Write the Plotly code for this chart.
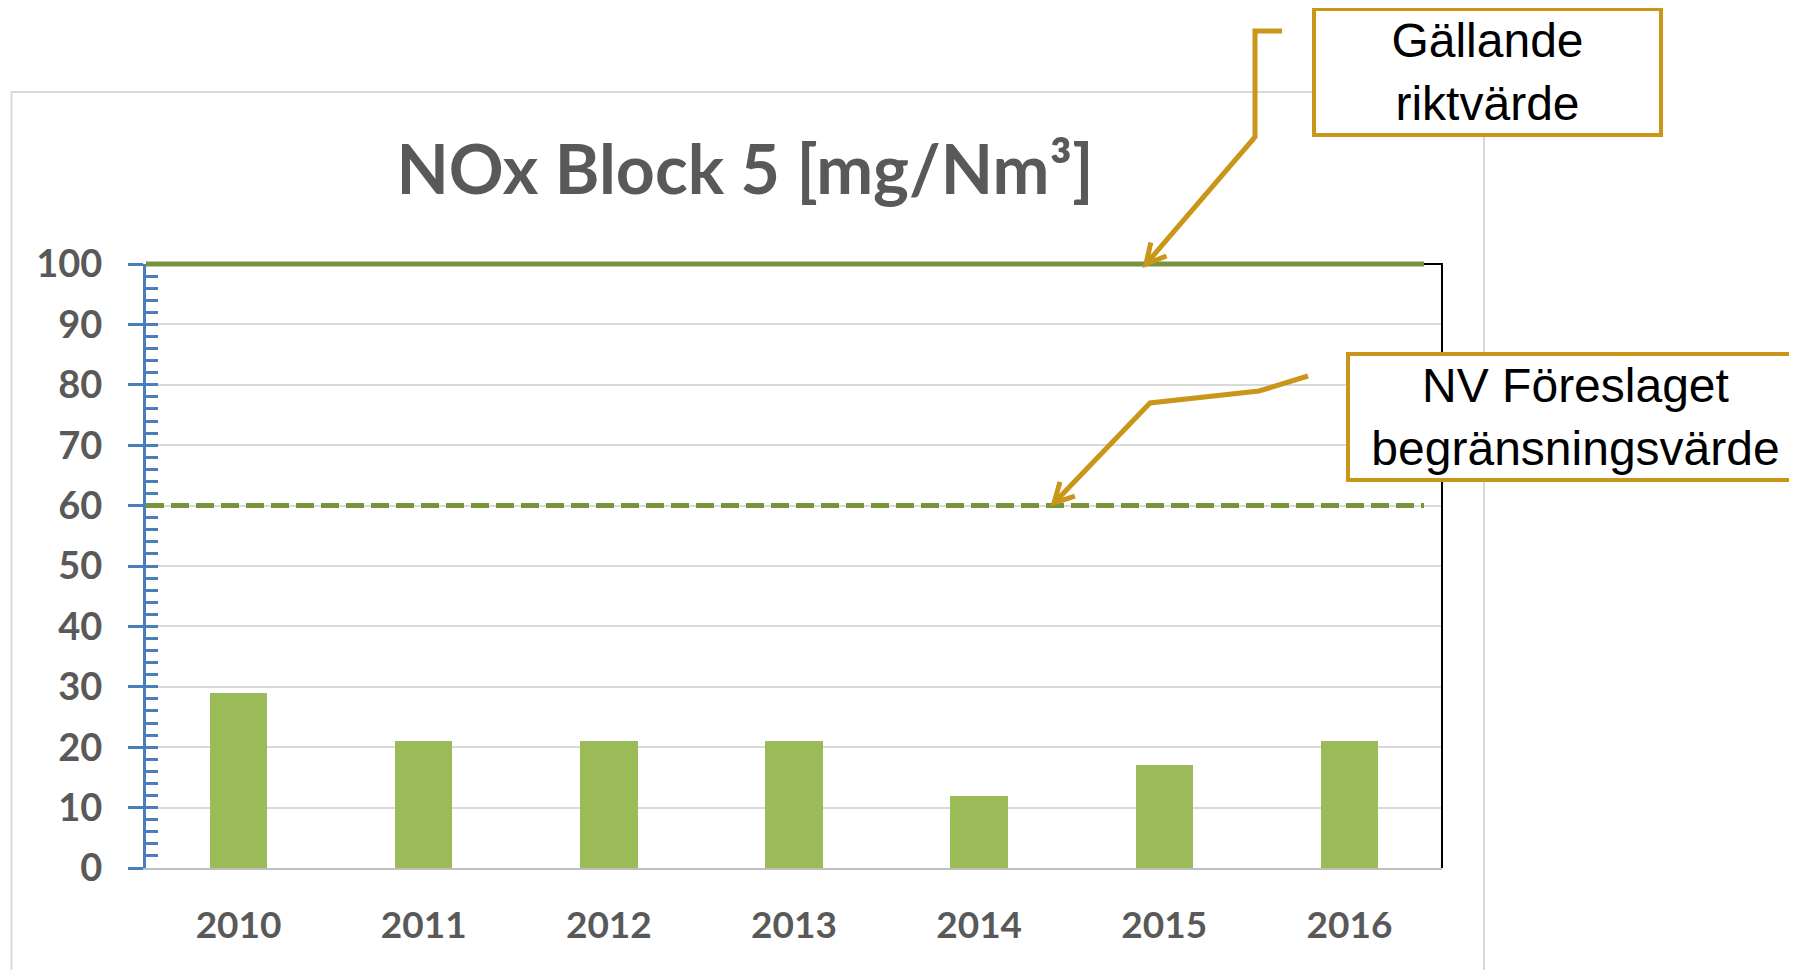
import math
import plotly.graph_objects as go

# ---- data ----
years = ["2010", "2011", "2012", "2013", "2014", "2015", "2016"]
nox_values = [29, 21, 21, 21, 12, 17, 21]
limit_names = ["Gällande riktvärde", "NV Föreslaget begränsningsvärde"]
limit_values = [100, 60]
y_range = [0, 100]
title_text = "NOx Block 5 [mg/Nm³]"

OFF = 8  # default page body margin
W, H = 1797 - OFF, 970 - OFF
L, R, T, B = 146 - OFF, 1442 - OFF, 264 - OFF, 868 - OFF  # plot area in figure px

def px(x):
    return (x - OFF - L) / (R - L)

def py(y):
    return (B - (y - OFF)) / (B - T)

def vy(v):
    return (v - y_range[0]) / (y_range[1] - y_range[0])

GOLD = "#c9961a"
GREEN_LINE = "#77933c"
BAR = "#9bbb59"
BLUE = "#4a7ebb"
GRAY_TXT = "#595959"

fig = go.Figure()
fig.add_trace(go.Bar(x=years, y=nox_values, marker=dict(color=BAR, line=dict(width=0)),
                     width=0.31, showlegend=False))
# invisible trace to activate overlay axis for minor ticks
fig.add_trace(go.Scatter(x=[years[0]], y=[0], yaxis="y2", mode="markers",
                         marker=dict(opacity=0), showlegend=False, hoverinfo="skip"))

shapes = []
# outer chart area border
shapes.append(dict(type="rect", xref="paper", yref="paper",
                   x0=px(11.5), x1=px(1484), y0=py(1000), y1=py(92),
                   line=dict(color="#d9d9d9", width=2), layer="below"))
# limit lines
dashes = ["solid", "18px,7px"]
for v, d in zip(limit_values, dashes):
    shapes.append(dict(type="line", xref="paper", yref="paper", x0=0, x1=px(1424),
                       y0=vy(v), y1=vy(v),
                       line=dict(color=GREEN_LINE, width=5, dash=d)))
# right black border with top hook
shapes.append(dict(type="path", xref="paper", yref="paper",
                   path=f"M {px(1424)},{vy(limit_values[0])} L 1,{vy(limit_values[0])} L 1,{vy(0)}",
                   line=dict(color="black", width=2)))

# connectors (pixel positions of decoration)
def conn(points):
    p = " L ".join(f"{px(x)},{py(y)}" for x, y in points)
    return "M " + p

def arrowhead(tail, tip, length=22, ang=28):
    dx, dy = tail[0] - tip[0], tail[1] - tip[1]
    n = math.hypot(dx, dy)
    ux, uy = dx / n, dy / n
    pts = []
    for s in (-1, 1):
        a = math.radians(ang * s)
        rx = ux * math.cos(a) - uy * math.sin(a)
        ry = ux * math.sin(a) + uy * math.cos(a)
        pts.append((tip[0] + rx * length, tip[1] + ry * length))
    return f"M {px(pts[0][0])},{py(pts[0][1])} L {px(tip[0])},{py(tip[1])} L {px(pts[1][0])},{py(pts[1][1])}"

c1 = [(1282, 31), (1255, 31), (1255, 137), (1146, 264)]
c2 = [(1308, 376), (1259, 391), (1150, 403), (1054, 503)]
for c in (c1, c2):
    shapes.append(dict(type="path", xref="paper", yref="paper", path=conn(c),
                       line=dict(color=GOLD, width=5)))
    shapes.append(dict(type="path", xref="paper", yref="paper", path=arrowhead(c[-2], c[-1]),
                       line=dict(color=GOLD, width=5)))

box_font = dict(family="Liberation Sans, Arial", size=48, color="black")
annotations = [
    dict(text="Gällande<br>riktvärde", xref="paper", yref="paper",
         x=px(1487), y=py(72.5), xanchor="center", yanchor="middle", showarrow=False,
         font=box_font, bordercolor=GOLD, borderwidth=4, borderpad=1, bgcolor="white",
         width=341, height=120),
    dict(text="NV Föreslaget<br>begränsningsvärde", xref="paper", yref="paper",
         x=px(1576), y=py(416.5), xanchor="center", yanchor="middle", showarrow=False,
         font=box_font, bordercolor=GOLD, borderwidth=4, borderpad=1, bgcolor="white",
         width=449, height=120),
]

ytick_font = dict(family="Lato", size=38, color=GRAY_TXT, weight="bold")
xtick_font = dict(family="Lato", size=37, color=GRAY_TXT, weight="bold")
fig.update_layout(
    width=W, height=H,
    margin=dict(l=L, r=W - R, t=T, b=H - B, pad=0),
    paper_bgcolor="white", plot_bgcolor="white",
    title=dict(text=f"<b>{title_text}</b>", xref="paper", x=px(745), xanchor="center",
               yref="container", y=1 - (170 - OFF) / H, yanchor="middle",
               font=dict(family="Lato", size=68, color=GRAY_TXT, weight=900)),
    xaxis=dict(type="category", showgrid=False, showline=True, linecolor="#bfbfbf", linewidth=2,
               ticks="", tickfont=xtick_font,
               ticklabelstandoff=24, range=[-0.5, 6.5], fixedrange=True),
    yaxis=dict(range=y_range, dtick=10, showgrid=True, gridcolor="#d9d9d9", gridwidth=2,
               zeroline=False, showline=True, linecolor=BLUE, linewidth=3,
               ticks="outside", ticklen=15, tickwidth=3, tickcolor=BLUE,
               tickfont=ytick_font, ticklabelstandoff=18),
    yaxis2=dict(range=y_range, overlaying="y", side="left", dtick=2, ticks="inside",
                ticklen=12, tickwidth=3, tickcolor=BLUE, showticklabels=False,
                showgrid=False, zeroline=False, showline=False),
    shapes=shapes, annotations=annotations,
    bargap=0,
)
fig.update_layout(font=dict(family="Lato"))
fig.write_html("out.html")
